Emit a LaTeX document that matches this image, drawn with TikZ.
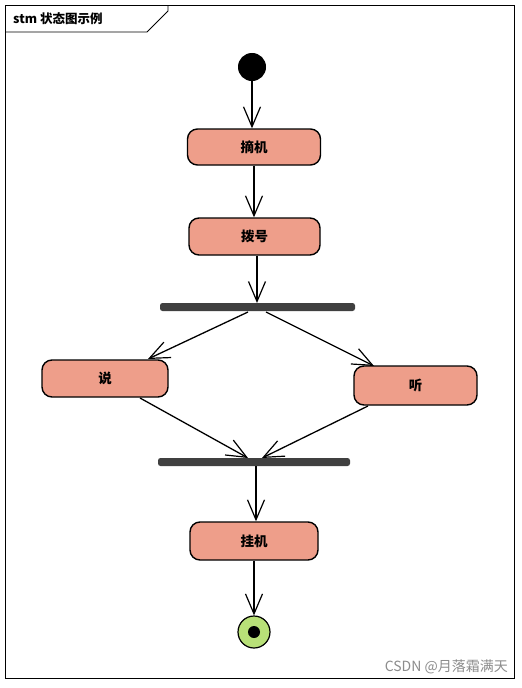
\documentclass[tikz,border=0pt]{standalone}
\usepackage{fontspec}
\newfontfamily\cjk{Noto Sans CJK SC}
\usetikzlibrary{arrows.meta,calc}
\definecolor{statefill}{RGB}{238,158,138}
\definecolor{barcol}{RGB}{64,64,64}
\definecolor{endgreen}{RGB}{184,224,120}
\begin{document}
\begin{tikzpicture}[x=1pt,y=-1pt,
  statebox/.style={draw=black, line width=1.4pt, fill=statefill, rounded corners=10pt,
    inner sep=0pt, font=\cjk\bfseries\fontsize{13.5}{15}\selectfont},
  barbox/.style={fill=barcol, rounded corners=2.5pt, inner sep=0pt, minimum height=8pt},
  flow/.style={line width=1.3pt, -{Straight Barb[length=20pt,width=17pt,line width=1.2pt]}},
  frameline/.style={line width=0.8pt}]
\useasboundingbox (0,0) rectangle (522,688);
\fill[white] (0,0) rectangle (522,688);
% frame
\draw[frameline] (5,5) rectangle (514,678);
\draw[frameline] (5,32) -- (147,32) -- (168,11) -- (168,5);
\node[anchor=west, inner sep=0pt, font=\cjk\bfseries\fontsize{12.5}{14}\selectfont] (title) at (13,18.5) {stm 状态图示例};
% nodes
\node[circle, fill=black, draw=black, line width=1pt, minimum size=27pt, inner sep=0pt] (init) at (252,67) {};
\node[statebox, minimum width=133pt, minimum height=36pt] (zhaiji) at (254,147) {摘机};
\node[statebox, minimum width=131pt, minimum height=37pt] (bohao) at (254.5,236.5) {拨号};
\node[barbox, minimum width=195pt] (fork) at (257.5,307) {};
\node[statebox, minimum width=126pt, minimum height=37pt] (shuo) at (105,378.5) {说};
\node[statebox, minimum width=123pt, minimum height=39pt] (ting) at (415.5,385.5) {听};
\node[barbox, minimum width=192pt] (join) at (254,462) {};
\node[statebox, minimum width=128pt, minimum height=38pt] (guaji) at (254,541) {挂机};
\node[circle, fill=endgreen, draw=black, line width=1.2pt, minimum size=32pt, inner sep=0pt] (final) at (254,632) {};
\node[circle, fill=black, minimum size=12pt, inner sep=0pt] (finalin) at (final) {};
% connector endpoints on bars
\coordinate (forkin) at (257,303);
\coordinate (forkL) at (248,312);
\coordinate (forkR) at (266,312);
\coordinate (joinL) at (248,458);
\coordinate (joinR) at (262,458);
\coordinate (joinout) at (256,466);
\coordinate (shuoout) at (140,398);
\coordinate (tingout) at (368,406);
\coordinate (shuoin) at (148,359);
\coordinate (tingin) at (374,366);
% connectors
\draw[flow] (init.south) -- (init.south |- zhaiji.north);
\draw[flow] (zhaiji.south) -- (bohao.north -| zhaiji.south);
\draw[flow] (bohao.south -| forkin) -- (forkin);
\draw[flow] (forkL) -- (shuoin);
\draw[flow] (forkR) -- (tingin);
\draw[flow] (shuoout) -- (joinL);
\draw[flow] (tingout) -- (joinR);
\draw[flow] (joinout) -- (guaji.north -| joinout);
\draw[flow] (guaji.south) -- (final.north);
% watermark
\node[anchor=east, inner sep=0pt, text=black!45, font=\cjk\fontsize{14}{16}\selectfont] (wm) at (508,667) {CSDN @月落霜满天};
\end{tikzpicture}
\end{document}
